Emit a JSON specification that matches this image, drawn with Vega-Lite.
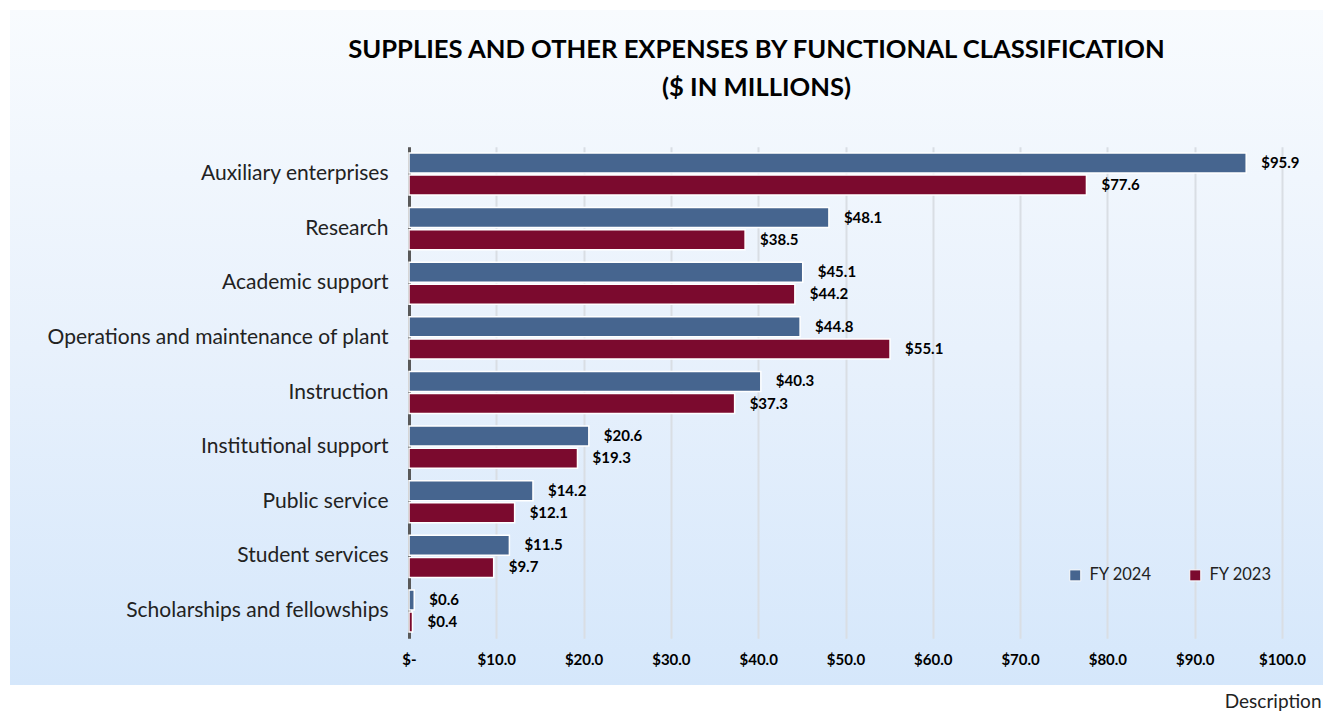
{
  "$schema": "https://vega.github.io/schema/vega-lite/v6.json",
  "width": 1313,
  "height": 675,
  "autosize": {"type": "none"},
  "padding": {"left": 10, "top": 10, "right": 0, "bottom": 26},
  "background": "#ffffff",
  "title": {
    "text": ["SUPPLIES AND OTHER EXPENSES BY FUNCTIONAL CLASSIFICATION", "($ IN MILLIONS)"],
    "font": "Lato",
    "fontSize": 25.6,
    "fontWeight": "bold",
    "color": "#000000",
    "anchor": "middle",
    "frame": "group",
    "dx": 90,
    "offset": -92,
    "lineHeight": 38
  },
  "data": {
    "values": [
      {"category": "Auxiliary enterprises", "year": "FY 2024", "value": 95.9},
      {"category": "Auxiliary enterprises", "year": "FY 2023", "value": 77.6},
      {"category": "Research", "year": "FY 2024", "value": 48.1},
      {"category": "Research", "year": "FY 2023", "value": 38.5},
      {"category": "Academic support", "year": "FY 2024", "value": 45.1},
      {"category": "Academic support", "year": "FY 2023", "value": 44.2},
      {"category": "Operations and maintenance of plant", "year": "FY 2024", "value": 44.8},
      {"category": "Operations and maintenance of plant", "year": "FY 2023", "value": 55.1},
      {"category": "Instruction", "year": "FY 2024", "value": 40.3},
      {"category": "Instruction", "year": "FY 2023", "value": 37.3},
      {"category": "Institutional support", "year": "FY 2024", "value": 20.6},
      {"category": "Institutional support", "year": "FY 2023", "value": 19.3},
      {"category": "Public service", "year": "FY 2024", "value": 14.2},
      {"category": "Public service", "year": "FY 2023", "value": 12.1},
      {"category": "Student services", "year": "FY 2024", "value": 11.5},
      {"category": "Student services", "year": "FY 2023", "value": 9.7},
      {"category": "Scholarships and fellowships", "year": "FY 2024", "value": 0.6},
      {"category": "Scholarships and fellowships", "year": "FY 2023", "value": 0.4}
    ]
  },
  "encoding": {
    "y": {
      "field": "category",
      "type": "nominal",
      "sort": null,
      "scale": {"range": [136.7, 628.3], "paddingInner": 0.23, "paddingOuter": 0.115},
      "axis": {
        "title": null,
        "orient": "left",
        "offset": -399,
        "domainColor": "#595959",
        "domainWidth": 3,
        "ticks": false,
        "tickSize": 0,
        "grid": false,
        "labelPadding": 21,
        "labelFont": "Lato",
        "labelFontSize": 21,
        "labelColor": "#222222",
        "labelLimit": 600
      }
    },
    "yOffset": {
      "field": "year",
      "type": "nominal",
      "sort": ["FY 2024", "FY 2023"],
      "scale": {"paddingInner": 0.1}
    }
  },
  "layer": [
    {
      "mark": {"type": "bar", "stroke": "#ffffff", "strokeWidth": 1.5},
      "encoding": {
        "x": {
          "field": "value",
          "type": "quantitative",
          "scale": {"domain": [0, 100], "range": [399, 1272], "nice": false, "zero": true},
          "axis": {
            "orient": "top",
            "values": [0, 10, 20, 30, 40, 50, 60, 70, 80, 90, 100],
            "grid": true,
            "gridColor": "#d9dee4",
            "gridWidth": 2,
            "domain": false,
            "ticks": false,
            "labels": false,
            "title": null
          }
        },
        "color": {
          "field": "year",
          "type": "nominal",
          "scale": {"domain": ["FY 2024", "FY 2023"], "range": ["#46658f", "#7b0a2e"]},
          "legend": {
            "title": null,
            "orient": "none",
            "legendX": 1057,
            "legendY": 557,
            "direction": "horizontal",
            "columns": 2,
            "symbolType": "square",
            "symbolSize": 121,
            "symbolStrokeColor": "#ffffff",
            "symbolStrokeWidth": 1,
            "labelFont": "Lato",
            "labelFontSize": 16.5,
            "labelColor": "#222222",
            "labelOffset": 6,
            "columnPadding": 35,
            "padding": 0
          }
        }
      }
    },
    {
      "mark": {
        "type": "text",
        "align": "left",
        "baseline": "middle",
        "dx": 15,
        "font": "Lato",
        "fontSize": 15,
        "fontWeight": "bold",
        "color": "#000000"
      },
      "encoding": {
        "x": {
          "field": "value",
          "type": "quantitative",
          "axis": {
            "orient": "bottom",
            "values": [0, 10, 20, 30, 40, 50, 60, 70, 80, 90, 100],
            "labelExpr": "datum.value == 0 ? '$-' : '$' + format(datum.value, '.1f')",
            "labelFlush": false,
            "grid": false,
            "domain": false,
            "ticks": false,
            "tickSize": 0,
            "offset": -43,
            "labelPadding": 10,
            "labelFont": "Lato",
            "labelFontSize": 15,
            "labelFontWeight": "bold",
            "labelColor": "#000000",
            "title": "Description",
            "titleFont": "Lato",
            "titleFontSize": 19,
            "titleFontWeight": "normal",
            "titleColor": "#222222",
            "titleX": 1311,
            "titleY": 59,
            "titleAlign": "right",
            "titleBaseline": "middle"
          }
        },
        "text": {"field": "value", "type": "quantitative", "format": "$.1f"}
      }
    }
  ],
  "resolve": {"axis": {"x": "independent"}},
  "config": {
    "view": {
      "fill": {
        "gradient": "linear",
        "x1": 0, "y1": 0, "x2": 0, "y2": 1,
        "stops": [
          {"offset": 0, "color": "#f8fbfe"},
          {"offset": 0.5, "color": "#e8f1fc"},
          {"offset": 1, "color": "#d5e7fb"}
        ]
      },
      "stroke": null
    }
  }
}
